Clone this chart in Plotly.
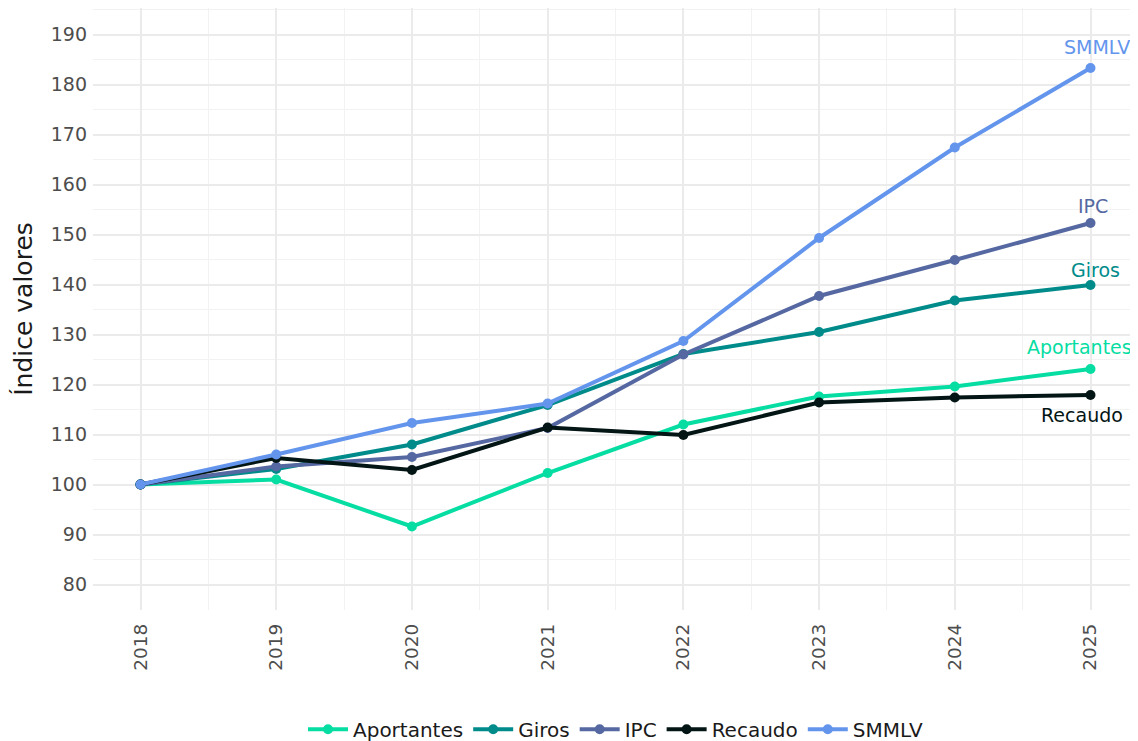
import plotly.graph_objects as go

years = [2018, 2019, 2020, 2021, 2022, 2023, 2024, 2025]
aportantes = [100, 101.0, 91.6, 102.3, 112.0, 117.6, 119.6, 123.1]
giros = [100, 103.1, 108.0, 115.9, 126.1, 130.5, 136.8, 139.9]
ipc = [100, 103.6, 105.5, 111.3, 126.0, 137.7, 144.9, 152.3]
recaudo = [100, 105.3, 102.9, 111.4, 109.9, 116.4, 117.4, 117.9]
smmlv = [100, 106.0, 112.3, 116.2, 128.7, 149.3, 167.4, 183.3]

series_names = ["Aportantes", "Giros", "IPC", "Recaudo", "SMMLV"]
series_values = [aportantes, giros, ipc, recaudo, smmlv]
colors = ["#06DDA3", "#008B8B", "#5668A1", "#031514", "#6495ED"]
# label offsets (in y units) relative to last point, and x shifts
label_dy = [4.5, 3.1, 3.5, -3.9, 4.3]
label_dx = [-0.08, 0.04, 0.02, -0.066, 0.045]

fig = go.Figure()
for name, vals, col in zip(series_names, series_values, colors):
    fig.add_trace(go.Scatter(
        x=years, y=vals, name=name, mode="lines+markers",
        line=dict(color=col, width=4),
        marker=dict(color=col, size=10),
    ))

for name, vals, col, dy, dx in zip(series_names, series_values, colors, label_dy, label_dx):
    fig.add_annotation(
        x=years[-1] + dx, y=vals[-1] + dy, text=name, showarrow=False,
        font=dict(color=col, size=19, family="DejaVu Sans"),
        xanchor="center", yanchor="middle",
    )

fig.update_layout(
    width=1130, height=733,
    margin=dict(l=85, r=0, t=0, b=131, autoexpand=False),
    plot_bgcolor="white", paper_bgcolor="white",
    font=dict(family="DejaVu Sans", size=18, color="#4d4d4d"),
    showlegend=True,
    legend=dict(orientation="h", x=0.5, xanchor="center", y=-0.198, yanchor="middle",
                font=dict(size=20, color="#1a1a1a"), itemwidth=40, traceorder="normal"),
    xaxis=dict(
        range=[2017.65, 2025.35], tickmode="array", tickvals=years,
        ticktext=[str(y) for y in years], tickangle=-90,
        showgrid=True, gridcolor="#ebebeb", gridwidth=2, zeroline=False,
        showline=False, ticks="", tickfont=dict(size=18.5, color="#4d4d4d"),
        minor=dict(dtick=0.5, tick0=2017.5, showgrid=True, gridcolor="#f2f2f2", gridwidth=1.2),
        ticklabelstandoff=9,
    ),
    yaxis=dict(
        range=[74.9, 195.3], tickmode="linear", tick0=80, dtick=10,
        showgrid=True, gridcolor="#ebebeb", gridwidth=2, zeroline=False,
        showline=False, ticks="", tickfont=dict(size=19, color="#4d4d4d"),
        minor=dict(dtick=5, tick0=75, showgrid=True, gridcolor="#f2f2f2", gridwidth=1.2),
        ticklabelstandoff=5,
        title=dict(text="Índice valores", font=dict(size=25, color="#1a1a1a"), standoff=10),
    ),
)

fig.write_html("out.html")
